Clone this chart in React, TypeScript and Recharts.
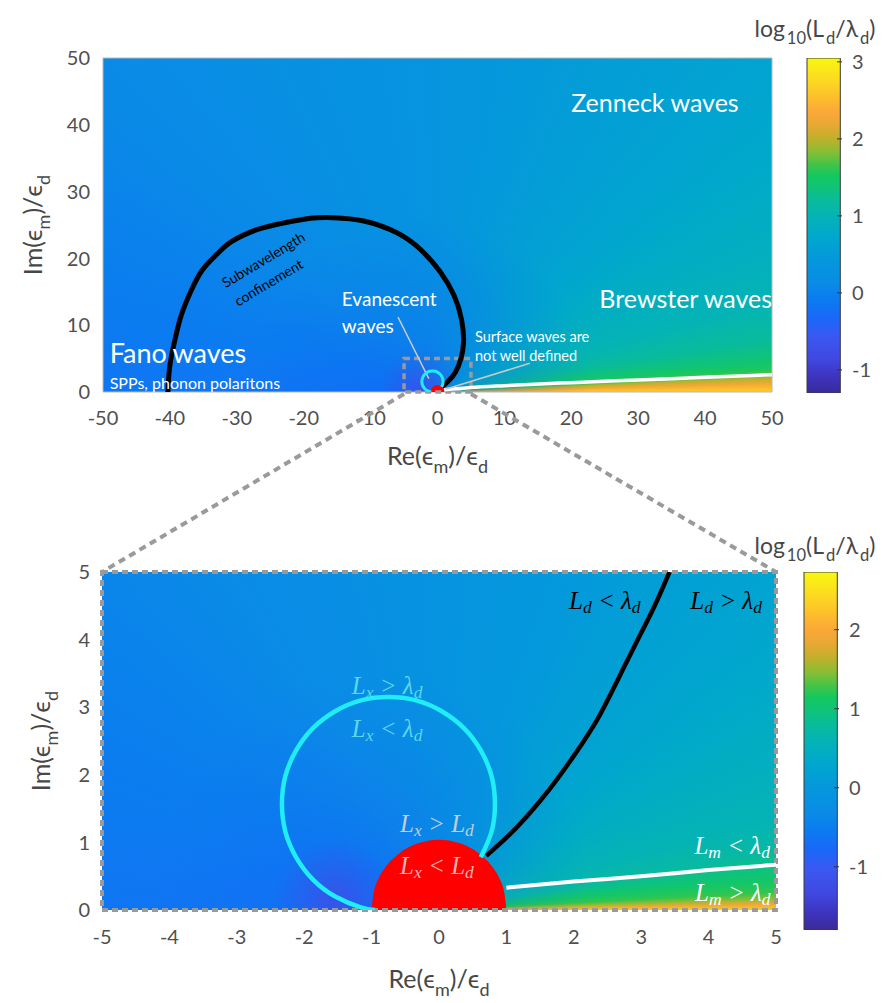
import React from 'react';
import { ComposedChart, BarChart, Bar, Line, Area, Scatter, XAxis, YAxis, ReferenceArea } from 'recharts';

// ---------------- axes ----------------
const topXTicks = [-50, -40, -30, -20, -10, 0, 10, 20, 30, 40, 50];
const topYTicks = [0, 10, 20, 30, 40, 50];
const topDomainX = [-50, 50];
const topDomainY = [0, 50];
const bottomXTicks = [-5, -4, -3, -2, -1, 0, 1, 2, 3, 4, 5];
const bottomYTicks = [0, 1, 2, 3, 4, 5];
const bottomDomainX = [-5, 5];
const bottomDomainY = [0, 5];
const zoomBoxX = [-5, 5];
const zoomBoxY = [0, 5];

// ---------------- colour bars ----------------
const topColorRange = [-1.3, 3.05];
const topColorTicks = [-1, 0, 1, 2, 3];
const bottomColorRange = [-1.8, 2.73];
const bottomColorTicks = [-1, 0, 1, 2];

const parulaStops: [number, string][] = [
  [0.0, '#3a2a98'], [0.05, '#3e34c0'], [0.1, '#4048e0'], [0.17, '#3a58f2'], [0.22, '#1c66f8'],
  [0.28, '#0a7cf0'], [0.33, '#0a8ce6'], [0.4, '#0498dc'], [0.47, '#00a8cc'], [0.53, '#04b4b4'],
  [0.58, '#0abc98'], [0.62, '#10c474'], [0.65, '#14c860'], [0.68, '#40c448'], [0.72, '#88be34'],
  [0.76, '#c0b02a'], [0.8, '#e8a834'], [0.84, '#fba838'], [0.88, '#fdbd2c'], [0.93, '#fcd722'], [1.0, '#f8f810'],
];

// log10(Ld/λd) read along rays from the origin: [angle in degrees, value]
const topAngularField: [number, number][] = [
  [180, -0.15], [160, -0.05], [140, 0.1], [120, 0.22], [90, 0.35], [60, 0.55], [40, 0.7], [25, 0.88],
  [15, 1.0], [9, 1.2], [5.5, 1.4], [4, 1.55], [3, 1.7], [2.5, 1.95], [1.5, 2.25], [0.7, 2.5], [0, 2.7],
];
const bottomAngularField: [number, number][] = [
  [180, -0.62], [150, -0.49], [120, -0.3], [90, -0.12], [70, 0.01], [55, 0.15], [40, 0.28], [25, 0.47],
  [15, 0.6], [10, 0.74], [7, 0.96], [5, 1.1], [3, 1.24], [2, 1.46], [1, 1.9], [0, 2.3],
];
// low-value pockets left of the origin: centre x, centre y, radius (data units)
const topPockets = [
  { x: -2.5, y: 0.5, r: 6, rgb: [70, 75, 230], alpha: 0.7 },
  { x: -3, y: 0, r: 26, rgb: [16, 100, 248], alpha: 0.55 },
];
const bottomPockets = [
  { x: -1.55, y: 0.15, r: 0.9, rgb: [70, 72, 230], alpha: 0.75 },
  { x: -1.0, y: 0.3, r: 3.2, rgb: [20, 100, 248], alpha: 0.45 },
];

// ---------------- curves ----------------
const topBlackCurve = [
  { x: -40.3, y: 0 }, { x: -40.0, y: 4 }, { x: -39.2, y: 8 }, { x: -38.3, y: 11.5 }, { x: -36.9, y: 15 },
  { x: -35.2, y: 18.2 }, { x: -33, y: 20.6 }, { x: -30.8, y: 22.5 }, { x: -27, y: 24.3 }, { x: -23, y: 25.3 },
  { x: -19, y: 26 }, { x: -15.6, y: 26.1 }, { x: -11, y: 25.6 }, { x: -6, y: 23.8 }, { x: -2.5, y: 21.3 },
  { x: 0.4, y: 18 }, { x: 2.5, y: 14.4 }, { x: 3.6, y: 10.8 }, { x: 3.9, y: 7.5 }, { x: 3.5, y: 5 },
  { x: 2.7, y: 3 }, { x: 1.6, y: 1.6 }, { x: 0.7, y: 0.8 },
];
const topWhiteLine = [
  { x: 1, y: 0.33 }, { x: 5, y: 0.67 }, { x: 10, y: 0.95 }, { x: 20, y: 1.4 }, { x: 30, y: 1.8 }, { x: 40, y: 2.2 }, { x: 50, y: 2.6 },
];
const cyanArc = [
  { x: 0.62, y: 0.78 }, { x: 0.78, y: 1.16 }, { x: 0.83, y: 1.57 }, { x: 0.78, y: 1.98 }, { x: 0.62, y: 2.36 },
  { x: 0.37, y: 2.69 }, { x: 0.04, y: 2.94 }, { x: -0.34, y: 3.1 }, { x: -0.75, y: 3.15 }, { x: -1.16, y: 3.1 },
  { x: -1.54, y: 2.94 }, { x: -1.87, y: 2.69 }, { x: -2.12, y: 2.36 }, { x: -2.28, y: 1.98 }, { x: -2.33, y: 1.57 },
  { x: -2.28, y: 1.16 }, { x: -2.12, y: 0.78 }, { x: -1.87, y: 0.45 }, { x: -1.54, y: 0.2 }, { x: -1.16, y: 0.04 },
  { x: -0.95, y: 0.0 },
];
const redRegion = [
  { x: -1, y: 0 }, { x: -0.97, y: 0.25 }, { x: -0.9, y: 0.46 }, { x: -0.8, y: 0.63 }, { x: -0.6, y: 0.83 },
  { x: -0.3, y: 0.99 }, { x: 0, y: 1.04 }, { x: 0.3, y: 0.99 }, { x: 0.6, y: 0.83 }, { x: 0.8, y: 0.63 },
  { x: 0.9, y: 0.46 }, { x: 0.97, y: 0.25 }, { x: 1, y: 0 },
];
const bottomBlackCurve = [
  { x: 0.7, y: 0.8 }, { x: 1.0, y: 1.07 }, { x: 1.3, y: 1.38 }, { x: 1.65, y: 1.8 }, { x: 2.0, y: 2.28 },
  { x: 2.35, y: 2.82 }, { x: 2.65, y: 3.4 }, { x: 2.95, y: 4.0 }, { x: 3.2, y: 4.5 }, { x: 3.42, y: 5.0 },
];
const bottomWhiteLine = [
  { x: 1.0, y: 0.33 }, { x: 2, y: 0.42 }, { x: 3, y: 0.5 }, { x: 4, y: 0.59 }, { x: 5, y: 0.67 },
];
const evanescentPointer = [{ x: -5.9, y: 11.2 }, { x: -1.3, y: 2.0 }];
const surfacePointer = [{ x: 13.8, y: 4.3 }, { x: 1.2, y: 0.4 }];

// ---------------- annotations ----------------
type Part = [string, string?];
const topNotes = [
  { x: 32.5, y: 43.4, parts: [['Zenneck waves']] as Part[], kind: 'region' },
  { x: 37.1, y: 14.1, parts: [['Brewster waves']] as Part[], kind: 'region' },
  { x: 5.6, y: 8.4, parts: [['Surface waves are']] as Part[], kind: 'small' },
  { x: 5.6, y: 5.5, parts: [['not well defined']] as Part[], kind: 'small' },
  { x: -49, y: 6.0, parts: [['Fano']] as Part[], kind: 'regionStart' },
  { x: -39.6, y: 6.0, parts: [['waves']] as Part[], kind: 'regionStart' },
  { x: -49, y: 1.5, parts: [['SPPs, phonon polaritons']] as Part[], kind: 'smallStart' },
  { x: -14.3, y: 14.1, parts: [['Evanescent']] as Part[], kind: 'mid' },
  { x: -14.3, y: 10.0, parts: [['waves']] as Part[], kind: 'mid' },
  { x: -26.1, y: 19.9, parts: [['Subwavelength']] as Part[], kind: 'arc' },
  { x: -25.3, y: 16.5, parts: [['confinement']] as Part[], kind: 'arc' },
];
const bottomNotes = [
  { x: 2.46, y: 4.59, parts: [['L'], ['d', 'sub'], [' < λ'], ['d', 'sub']] as Part[], kind: 'ldBlack' },
  { x: 4.26, y: 4.59, parts: [['L'], ['d', 'sub'], [' > λ'], ['d', 'sub']] as Part[], kind: 'ldBlack' },
  { x: -0.77, y: 3.33, parts: [['L'], ['x', 'sub'], [' > λ'], ['d', 'sub']] as Part[], kind: 'lxCyan' },
  { x: -0.77, y: 2.69, parts: [['L'], ['x', 'sub'], [' < λ'], ['d', 'sub']] as Part[], kind: 'lxCyan' },
  { x: -0.03, y: 1.29, parts: [['L'], ['x', 'sub'], [' > L'], ['d', 'sub']] as Part[], kind: 'lxGray' },
  { x: -0.03, y: 0.67, parts: [['L'], ['x', 'sub'], [' < L'], ['d', 'sub']] as Part[], kind: 'lxPink' },
  { x: 4.35, y: 0.96, parts: [['L'], ['m', 'sub'], [' < λ'], ['d', 'sub']] as Part[], kind: 'lmWhite' },
  { x: 4.36, y: 0.27, parts: [['L'], ['m', 'sub'], [' > λ'], ['d', 'sub']] as Part[], kind: 'lmWhite' },
];

// ---------------- styling ----------------
const FONT = 'Lato, "Noto Sans", "DejaVu Sans", sans-serif';
const SERIF = '"Liberation Serif", "DejaVu Serif", serif';
const noteStyles: Record<string, any> = {
  region: { size: 25, fill: '#ffffff', anchor: 'middle', family: FONT },
  regionStart: { size: 27, fill: '#ffffff', anchor: 'start', family: FONT },
  small: { size: 14.5, fill: '#ffffff', anchor: 'start', family: FONT },
  smallStart: { size: 16, fill: '#ffffff', anchor: 'start', family: FONT },
  mid: { size: 19, fill: '#ffffff', anchor: 'start', family: FONT },
  arc: { size: 14, fill: '#000000', anchor: 'middle', family: FONT, rotate: -31 },
  ldBlack: { size: 25, fill: '#000000', anchor: 'middle', family: SERIF, italic: true },
  lxCyan: { size: 25, fill: '#5ad8ea', anchor: 'middle', family: SERIF, italic: true },
  lxGray: { size: 25, fill: '#c4ccd4', anchor: 'middle', family: SERIF, italic: true },
  lxPink: { size: 25, fill: '#f4b4b4', anchor: 'middle', family: SERIF, italic: true },
  lmWhite: { size: 25, fill: '#ffffff', anchor: 'middle', family: SERIF, italic: true },
};
const tickStyle = { fill: '#505050', fontSize: 20, fontFamily: FONT };

// ---------------- helpers ----------------
function hexRgb(h: string) {
  const n = parseInt(h.slice(1), 16);
  return [(n >> 16) & 255, (n >> 8) & 255, n & 255];
}
function cmap(t: number) {
  const tt = Math.max(0, Math.min(1, t));
  for (let i = 0; i < parulaStops.length - 1; i++) {
    const [t0, c0] = parulaStops[i];
    const [t1, c1] = parulaStops[i + 1];
    if (tt <= t1) {
      const f = (tt - t0) / (t1 - t0 || 1);
      const a = hexRgb(c0);
      const b = hexRgb(c1);
      return `rgb(${a.map((v, k) => Math.round(v + (b[k] - v) * f)).join(',')})`;
    }
  }
  return parulaStops[parulaStops.length - 1][1];
}
const valueColor = (v: number, range: number[]) => cmap((v - range[0]) / (range[1] - range[0]));

function makeHeat(field: [number, number][], range: number[], domX: number[], domY: number[], pockets: any[]) {
  return function HeatShape(props: any) {
    const { x, y, width, height } = props;
    if (!(width > 0) || !(height > 0)) return null;
    const ux = width / (domX[1] - domX[0]);
    const uy = height / (domY[1] - domY[0]);
    const px = (vx: number) => (vx - domX[0]) * ux;
    const py = (vy: number) => height - (vy - domY[0]) * uy;
    const stops = field.map(([a, v]) => `${valueColor(v, range)} ${180 - a}deg`);
    const last = valueColor(field[field.length - 1][1], range);
    const conic = `conic-gradient(from -90deg at ${px(0)}px ${py(0)}px, ${stops.join(', ')}, ${last} 360deg)`;
    const rad = pockets.map((g) => {
      const r = g.r * ux;
      const c = g.rgb.join(',');
      return `radial-gradient(circle ${r}px at ${px(g.x)}px ${py(g.y)}px, rgba(${c},${g.alpha}) 0px, rgba(${c},${g.alpha * 0.5}) ${r * 0.45}px, rgba(${c},0) ${r}px)`;
    });
    return (
      <foreignObject x={x} y={y} width={width} height={height}>
        <div style={{ width: '100%', height: '100%', background: [...rad, conic].join(', ') }} />
      </foreignObject>
    );
  };
}

function richTspans(parts: Part[], size: number) {
  const sh = size * 0.28;
  let shifted = false;
  return parts.map(([s, k], i) => {
    if (k === 'sub') {
      const el = <tspan key={i} fontSize={size * 0.7} dy={shifted ? 0 : sh}>{s}</tspan>;
      shifted = true;
      return el;
    }
    const el = <tspan key={i} dy={shifted ? -sh : 0}>{s}</tspan>;
    shifted = false;
    return el;
  });
}

const NoteShape = (props: any) => {
  const { cx, cy, payload } = props;
  if (cx == null || cy == null) return null;
  const st = noteStyles[payload.kind];
  return (
    <text
      x={cx}
      y={cy}
      textAnchor={st.anchor}
      dominantBaseline="central"
      fontSize={st.size}
      fontFamily={st.family}
      fontStyle={st.italic ? 'italic' : 'normal'}
      fill={st.fill}
      transform={st.rotate ? `rotate(${st.rotate} ${cx} ${cy})` : undefined}
    >
      {richTspans(payload.parts, st.size)}
    </text>
  );
};

function HtmlTitle({ x, y, parts, size, rotate, subGap = 0 }: any) {
  return (
    <div
      style={{
        position: 'absolute', left: x, top: y,
        transform: `translate(-50%,-50%)${rotate ? ` rotate(${rotate}deg)` : ''}`,
        fontFamily: FONT, fontSize: size, color: '#474747', whiteSpace: 'nowrap', lineHeight: 1,
      }}
    >
      {parts.map(([s, k]: Part, i: number) =>
        k === 'sub' ? (
          <span key={i} style={{ fontSize: size * 0.72, position: 'relative', top: size * 0.32, marginLeft: subGap }}>{s}</span>
        ) : (
          <span key={i}>{s}</span>
        ),
      )}
    </div>
  );
}

// ---------------- layout ----------------
const TOP = { left: 0, top: 0, width: 790, height: 470, margin: { top: 58, right: 18, bottom: 38, left: 43 } };
const BOT = { left: 0, top: 520, width: 790, height: 483, margin: { top: 52, right: 14, bottom: 53, left: 42 } };
const Y_AXIS_W = 60;
const X_AXIS_H = 40;
const topPlot = {
  left: TOP.left + TOP.margin.left + Y_AXIS_W, right: TOP.left + TOP.width - TOP.margin.right,
  top: TOP.top + TOP.margin.top, bottom: TOP.top + TOP.height - TOP.margin.bottom - X_AXIS_H,
};
const botPlot = {
  left: BOT.left + BOT.margin.left + Y_AXIS_W, right: BOT.left + BOT.width - BOT.margin.right,
  top: BOT.top + BOT.margin.top, bottom: BOT.top + BOT.height - BOT.margin.bottom - X_AXIS_H,
};
const topPxX = (v: number) => topPlot.left + ((v - topDomainX[0]) / (topDomainX[1] - topDomainX[0])) * (topPlot.right - topPlot.left);
const topPxY = (v: number) => topPlot.bottom - ((v - topDomainY[0]) / (topDomainY[1] - topDomainY[0])) * (topPlot.bottom - topPlot.top);

const topHeat = makeHeat(topAngularField, topColorRange, topDomainX, topDomainY, topPockets);
const bottomHeat = makeHeat(bottomAngularField, bottomColorRange, bottomDomainX, bottomDomainY, bottomPockets);

const axisTitleX: Part[] = [['Re(ϵ'], ['m', 'sub'], [')/ϵ'], ['d', 'sub']];
const axisTitleY: Part[] = [['Im(ϵ'], ['m', 'sub'], [')/ϵ'], ['d', 'sub']];
const cbTitle: Part[] = [['log'], ['10', 'sub'], ['(L'], ['d', 'sub'], ['/λ'], ['d', 'sub'], [')']];

function ColorBar({ range, ticks, left, top, width, height, margin, axisW, barW }: any) {
  const data = [{ name: 'cb', span: [range[0], range[1]] }];
  return (
    <div style={{ position: 'absolute', left, top }}>
      <BarChart width={width} height={height} data={data} margin={margin} barCategoryGap={0}>
        <XAxis dataKey="name" hide />
        <YAxis
          orientation="right"
          type="number"
          domain={range}
          allowDataOverflow
          ticks={ticks}
          interval={0}
          width={axisW}
          axisLine={false}
          tickLine={{ stroke: '#333' }}
          tickSize={-5}
          tickMargin={15}
          tick={{ ...tickStyle, textAnchor: 'start' }}
        />
        <Bar dataKey="span" fill="url(#parulaGrad)" stroke="#3a3a3a" strokeWidth={1} barSize={barW} isAnimationActive={false} />
      </BarChart>
    </div>
  );
}

export default function App() {
  return (
    <div style={{ position: 'absolute', left: 0, top: 0, width: 885, height: 1003, background: '#fff', overflow: 'hidden' }}>
      <svg width={0} height={0} style={{ position: 'absolute' }}>
        <defs>
          <linearGradient id="parulaGrad" x1="0" y1="0" x2="0" y2="1">
            {parulaStops.map(([t, c], i) => (
              <stop key={i} offset={1 - t} stopColor={c} />
            )).reverse()}
          </linearGradient>
        </defs>
      </svg>

      {/* ---------- top panel ---------- */}
      <div style={{ position: 'absolute', left: TOP.left, top: TOP.top }}>
        <ComposedChart width={TOP.width} height={TOP.height} margin={TOP.margin}>
          <XAxis type="number" dataKey="x" domain={topDomainX} ticks={topXTicks} interval={0} allowDataOverflow
            axisLine={false} tickLine={false} tickSize={0} tickMargin={19} height={X_AXIS_H} tick={tickStyle} />
          <YAxis type="number" dataKey="y" domain={topDomainY} ticks={topYTicks} interval={0} allowDataOverflow
            axisLine={false} tickLine={false} tickSize={0} tickMargin={13} width={Y_AXIS_W} tick={tickStyle} />
          <ReferenceArea x1={topDomainX[0]} x2={topDomainX[1]} y1={topDomainY[0]} y2={topDomainY[1]} shape={topHeat} zIndex={-100} />
          <ReferenceArea x1={topDomainX[0]} x2={topDomainX[1]} y1={topDomainY[0]} y2={topDomainY[1]} fill="none" fillOpacity={0} stroke="#b8b8b8" strokeWidth={1} />
          <Line data={topWhiteLine} dataKey="y" type="monotone" stroke="#ffffff" strokeWidth={3.5} dot={false} isAnimationActive={false} />
          <Line data={evanescentPointer} dataKey="y" type="linear" stroke="#c9c9c9" strokeWidth={1.5} dot={false} isAnimationActive={false} />
          <Line data={surfacePointer} dataKey="y" type="linear" stroke="#c9c9c9" strokeWidth={1.5} dot={false} isAnimationActive={false} />
          <Line data={topBlackCurve} dataKey="y" type="natural" stroke="#000000" strokeWidth={5} dot={false} isAnimationActive={false} />
          <Line data={cyanArc} dataKey="y" type="natural" stroke="#20eef6" strokeWidth={3} dot={false} isAnimationActive={false} />
          <Area data={redRegion} dataKey="y" type="monotone" fill="#ff0000" fillOpacity={1} stroke="none" baseValue={0} isAnimationActive={false} />
          <ReferenceArea x1={zoomBoxX[0]} x2={zoomBoxX[1]} y1={zoomBoxY[0]} y2={zoomBoxY[1]} fill="none" fillOpacity={0} stroke="#9a9a9a" strokeWidth={3.5} strokeDasharray="6 4" ifOverflow="visible" />
          <Scatter data={topNotes} dataKey="y" shape={NoteShape} isAnimationActive={false} />
        </ComposedChart>
      </div>

      {/* ---------- bottom panel ---------- */}
      <div style={{ position: 'absolute', left: BOT.left, top: BOT.top }}>
        <ComposedChart width={BOT.width} height={BOT.height} margin={BOT.margin}>
          <XAxis type="number" dataKey="x" domain={bottomDomainX} ticks={bottomXTicks} interval={0} allowDataOverflow
            axisLine={false} tickLine={false} tickSize={0} tickMargin={20} height={X_AXIS_H} tick={tickStyle} />
          <YAxis type="number" dataKey="y" domain={bottomDomainY} ticks={bottomYTicks} interval={0} allowDataOverflow
            axisLine={false} tickLine={false} tickSize={0} tickMargin={12} width={Y_AXIS_W} tick={tickStyle} />
          <ReferenceArea x1={bottomDomainX[0]} x2={bottomDomainX[1]} y1={bottomDomainY[0]} y2={bottomDomainY[1]} shape={bottomHeat} zIndex={-100} />
          <Line data={bottomWhiteLine} dataKey="y" type="monotone" stroke="#ffffff" strokeWidth={4} dot={false} isAnimationActive={false} />
          <Line data={bottomBlackCurve} dataKey="y" type="natural" stroke="#000000" strokeWidth={4.5} dot={false} isAnimationActive={false} />
          <Line data={cyanArc} dataKey="y" type="natural" stroke="#20eef6" strokeWidth={4.5} dot={false} isAnimationActive={false} />
          <Area data={redRegion} dataKey="y" type="monotone" fill="#ff0000" fillOpacity={1} stroke="none" baseValue={0} isAnimationActive={false} />
          <Scatter data={bottomNotes} dataKey="y" shape={NoteShape} isAnimationActive={false} />
          <ReferenceArea x1={bottomDomainX[0]} x2={bottomDomainX[1]} y1={bottomDomainY[0]} y2={bottomDomainY[1]} fill="none" fillOpacity={0} stroke="#9a9a9a" strokeWidth={4} strokeDasharray="6 4" ifOverflow="visible" />
        </ComposedChart>
      </div>

      {/* ---------- colour bars ---------- */}
      <ColorBar range={topColorRange} ticks={topColorTicks} left={800} top={0} width={85} height={420}
        margin={{ top: 58, right: 0, bottom: 27, left: 5 }} axisW={43} barW={37} />
      <ColorBar range={bottomColorRange} ticks={bottomColorTicks} left={797} top={520} width={88} height={420}
        margin={{ top: 52, right: 0, bottom: 10, left: 5 }} axisW={46} barW={37} />

      {/* ---------- titles ---------- */}
      <HtmlTitle x={(topPlot.left + topPlot.right) / 2} y={455} parts={axisTitleX} size={25} />
      <HtmlTitle x={32} y={(topPlot.top + topPlot.bottom) / 2} parts={axisTitleY} size={25} rotate={-90} />
      <HtmlTitle x={(botPlot.left + botPlot.right) / 2} y={978} parts={axisTitleX} size={25} />
      <HtmlTitle x={40} y={(botPlot.top + botPlot.bottom) / 2} parts={axisTitleY} size={25} rotate={-90} />
      <HtmlTitle x={815} y={28} parts={cbTitle} size={23} subGap={2} />
      <HtmlTitle x={815} y={545} parts={cbTitle} size={23} subGap={2} />

      {/* ---------- zoom connectors ---------- */}
      <svg width={885} height={1003} style={{ position: 'absolute', left: 0, top: 0, pointerEvents: 'none' }}>
        <line x1={topPxX(zoomBoxX[0])} y1={topPxY(zoomBoxY[0]) + 2} x2={botPlot.left} y2={botPlot.top}
          stroke="#9a9a9a" strokeWidth={4} strokeDasharray="7 5" />
        <line x1={topPxX(zoomBoxX[1])} y1={topPxY(zoomBoxY[0]) + 2} x2={botPlot.right} y2={botPlot.top}
          stroke="#9a9a9a" strokeWidth={4} strokeDasharray="7 5" />
      </svg>
    </div>
  );
}
